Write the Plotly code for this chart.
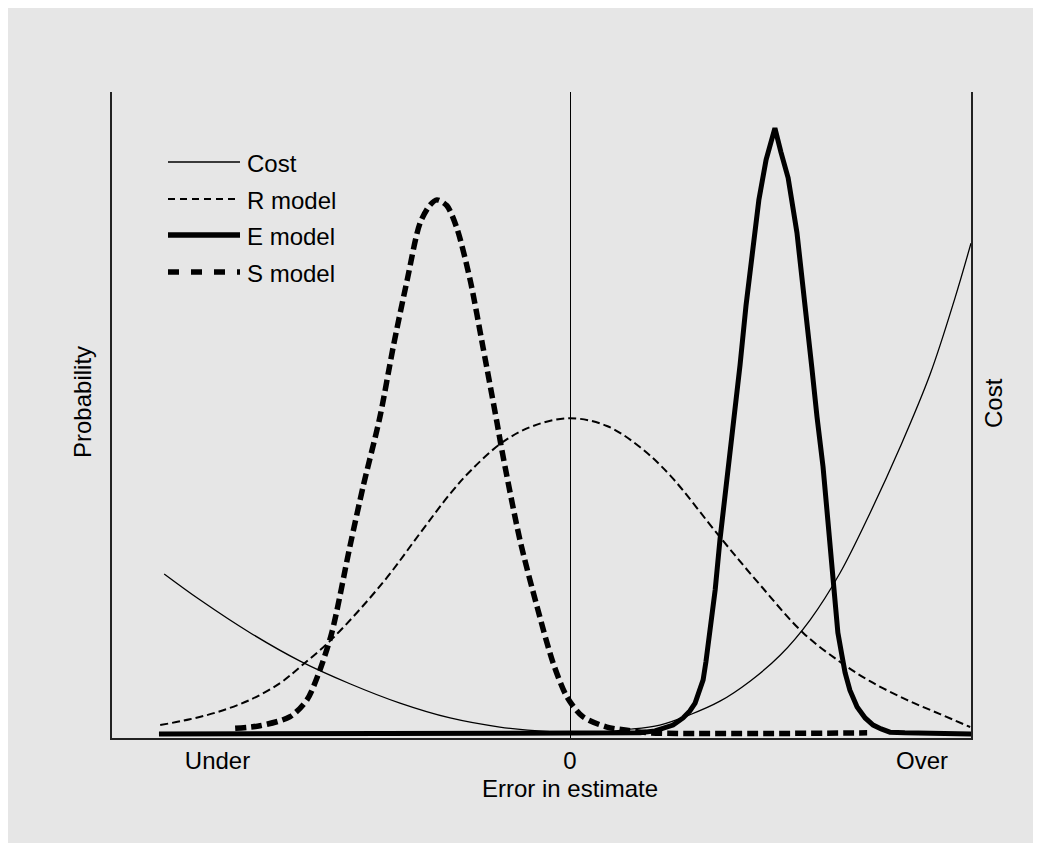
import plotly.graph_objects as go

# ---- data (x: error in estimate, -ve = under, +ve = over; y: relative height) ----
cost_x = [-1.012, -0.923, -0.798, -0.673, -0.549, -0.424, -0.299, -0.175, -0.050, 0.050, 0.142,
          0.224, 0.299, 0.374, 0.449, 0.524, 0.599, 0.673, 0.748, 0.823, 0.898, 0.960, 1.0]
cost_y = [0.254, 0.214, 0.163, 0.119, 0.084, 0.054, 0.031, 0.017, 0.010, 0.0085, 0.013,
          0.020, 0.036, 0.057, 0.088, 0.128, 0.183, 0.255, 0.348, 0.450, 0.563, 0.681, 0.766]

r_x = [-1.022, -0.948, -0.880, -0.798, -0.723, -0.673, -0.594, -0.466, -0.374, -0.299, -0.249,
       -0.170, -0.092, 0.0, 0.092, 0.175, 0.249, 0.374, 0.474, 0.581, 0.673, 0.748, 0.840,
       0.923, 0.998]
r_y = [0.020, 0.029, 0.040, 0.059, 0.085, 0.110, 0.153, 0.241, 0.317, 0.378, 0.413,
       0.457, 0.483, 0.495, 0.483, 0.450, 0.407, 0.311, 0.237, 0.163, 0.118, 0.088, 0.059,
       0.037, 0.017]

e_x = [-1.025, 0.175, 0.212, 0.237, 0.257, 0.282, 0.299, 0.312, 0.322, 0.332, 0.339, 0.349,
       0.362, 0.374, 0.387, 0.399, 0.411, 0.424, 0.439, 0.454, 0.471, 0.489, 0.499, 0.511,
       0.526, 0.544, 0.566, 0.586, 0.603, 0.616, 0.631, 0.643, 0.653, 0.661, 0.668, 0.678,
       0.686, 0.698, 0.716, 0.736, 0.756, 0.776, 0.798, 0.835, 1.010]
e_y = [0.006, 0.008, 0.011, 0.015, 0.020, 0.031, 0.042, 0.054, 0.070, 0.090, 0.118, 0.163,
       0.229, 0.307, 0.376, 0.443, 0.508, 0.577, 0.670, 0.752, 0.833, 0.895, 0.920, 0.944,
       0.907, 0.867, 0.782, 0.678, 0.574, 0.497, 0.420, 0.337, 0.265, 0.211, 0.163, 0.128,
       0.101, 0.074, 0.048, 0.031, 0.020, 0.014, 0.009, 0.008, 0.006]

s_x = [-0.835, -0.773, -0.698, -0.656, -0.628, -0.594, -0.549, -0.516, -0.474, -0.441, -0.406,
       -0.374, -0.349, -0.332, -0.307, -0.282, -0.249, -0.217, -0.182, -0.170, -0.125, -0.082,
       -0.042, -0.007, 0.032, 0.092, 0.142, 0.200, 0.741]
s_y = [0.015, 0.019, 0.033, 0.059, 0.098, 0.163, 0.296, 0.389, 0.497, 0.605, 0.709,
       0.797, 0.825, 0.833, 0.824, 0.789, 0.709, 0.605, 0.488, 0.446, 0.307, 0.203,
       0.116, 0.063, 0.033, 0.017, 0.012, 0.008, 0.008]

tick_vals = [-0.879, 0.0, 0.878]
tick_text = ["Under", "0", "Over"]
legend_names = ["Cost", "R model", "E model", "S model"]

# ---- geometry: page pixels of the 1041x853 window (page body has an 8px margin) ----
OFF = 8
W, H = 1041 - OFF, 853 - OFF
PL, PR, PT, PB = 112, 971, 92, 738          # plot-area edges in page pixels
L, R, T, B = PL - OFF, PR - OFF, PT - OFF, PB - OFF
FONT = "Liberation Sans, Arial, Helvetica, sans-serif"
FS = 24


def px(xp):
    return (xp - PL) / (PR - PL)


def py(yp):
    return (PB - yp) / (PB - PT)


fig = go.Figure()
fig.add_trace(go.Scatter(x=cost_x, y=cost_y, mode="lines", name=legend_names[0],
                         line=dict(color="black", width=1.3, shape="spline", smoothing=1)))
fig.add_trace(go.Scatter(x=r_x, y=r_y, mode="lines", name=legend_names[1],
                         line=dict(color="black", width=2, dash="8px,4px", shape="spline", smoothing=1)))
fig.add_trace(go.Scatter(x=s_x, y=s_y, mode="lines", name=legend_names[3],
                         line=dict(color="black", width=5.5, dash="11px,5px", shape="spline", smoothing=0.8)))
fig.add_trace(go.Scatter(x=e_x, y=e_y, mode="lines", name=legend_names[2],
                         line=dict(color="black", width=5, shape="linear")))

shapes = [
    dict(type="rect", xref="paper", yref="paper", x0=px(OFF - 1), x1=px(1034), y0=py(843), y1=py(OFF - 1),
         fillcolor="#e6e6e6", line=dict(width=0), layer="below"),
]
annotations = []
leg_rows = [162, 199, 235, 272]
leg_styles = [dict(width=1.3, dash="solid"), dict(width=2, dash="7px,5px"),
              dict(width=5.5, dash="solid"), dict(width=5.5, dash="11px,12px")]
for name, yr, st in zip(legend_names, leg_rows, leg_styles):
    shapes.append(dict(type="line", xref="paper", yref="paper", x0=px(168), x1=px(240),
                       y0=py(yr), y1=py(yr), line=dict(color="black", **st)))
    annotations.append(dict(text=name, xref="paper", yref="paper", x=px(245), y=py(yr + 1),
                            xanchor="left", yanchor="middle", showarrow=False,
                            font=dict(size=FS, color="black", family=FONT)))

annotations += [
    dict(text="Error in estimate", xref="paper", yref="paper", x=px(570), y=py(788),
         xanchor="center", yanchor="middle", showarrow=False, font=dict(size=FS, color="black", family=FONT)),
    dict(text="Probability", xref="paper", yref="paper", x=px(82), y=py(402), textangle=-90,
         xanchor="center", yanchor="middle", showarrow=False, font=dict(size=FS, color="black", family=FONT)),
    dict(text="Cost", xref="paper", yref="paper", x=px(993), y=py(403), textangle=-90,
         xanchor="center", yanchor="middle", showarrow=False, font=dict(size=FS, color="black", family=FONT)),
]

fig.update_layout(
    width=W, height=H,
    margin=dict(l=L, r=W - R, t=T, b=H - B, pad=0),
    paper_bgcolor="white", plot_bgcolor="rgba(0,0,0,0)",
    showlegend=False,
    shapes=shapes, annotations=annotations,
    font=dict(family=FONT, size=FS, color="black"),
    xaxis=dict(range=[-(570 - PL) / 401, (PR - 570) / 401], showgrid=False,
               zeroline=True, zerolinecolor="black", zerolinewidth=1.3,
               showline=True, linecolor="#222", linewidth=1.5, mirror=False,
               tickvals=tick_vals, ticktext=tick_text, ticks="", ticklabelstandoff=0,
               tickfont=dict(size=FS, family=FONT, color="black"), fixedrange=True),
    yaxis=dict(range=[0, 1], showgrid=False, zeroline=False, showticklabels=False, ticks="",
               showline=True, linecolor="#222", linewidth=1.5, mirror=True, fixedrange=True),
)

fig.write_html("out.html")
